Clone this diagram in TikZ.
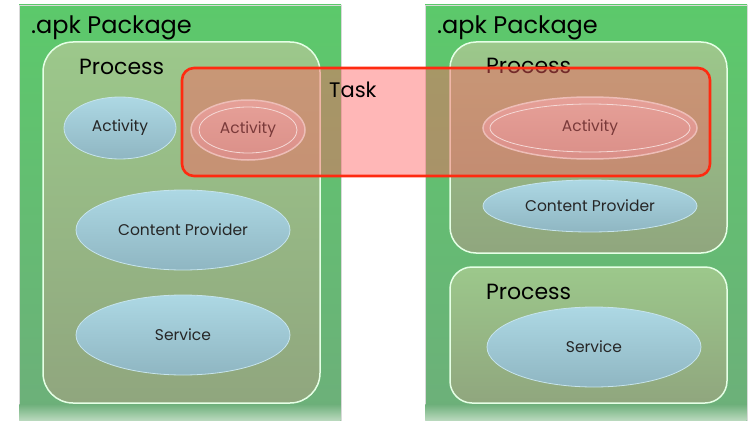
\documentclass[tikz,border=0pt]{standalone}
\usepackage{fontspec}
\setmainfont{Poppins}
\usetikzlibrary{shapes.geometric}
\definecolor{pkgtop}{HTML}{5CC96B}
\definecolor{pkgbot}{HTML}{6DAF7A}
\definecolor{pkgfade}{HTML}{B8D8BC}
\definecolor{proctop}{HTML}{9CC88B}
\definecolor{procbot}{HTML}{90A67E}
\definecolor{elltop}{HTML}{ADD8E4}
\definecolor{ellbot}{HTML}{8FB6C2}
\definecolor{redtop}{HTML}{E6A098}
\definecolor{redbot}{HTML}{DA8F88}
\definecolor{redtext}{HTML}{7A3A3A}
\definecolor{taskfill}{HTML}{FF5F5F}
\definecolor{taskline}{HTML}{FF2A10}
\tikzset{
  pkgbox/.style={draw=black!15, line width=0.8pt, top color=pkgtop, bottom color=pkgbot},
  pkgband/.style={top color=pkgbot, bottom color=pkgfade},
  procbox/.style={draw=white!90!green, line width=1.5pt, top color=proctop, bottom color=procbot},
  blueell/.style={ellipse, draw=elltop!70!white, line width=0.8pt, top color=elltop, bottom color=ellbot, inner sep=0pt, font=\fontsize{15.5}{18}\selectfont, text=black!85},
  redell/.style={ellipse, draw=redtop!70!white, line width=1.5pt, top color=redtop, bottom color=redbot, inner sep=0pt, font=\fontsize{15.5}{18}\selectfont, text=redtext},
  bigtitle/.style={anchor=west, inner sep=0pt, font=\fontsize{24}{28}\selectfont},
  proctitle/.style={anchor=west, inner sep=0pt, font=\fontsize{22}{26}\selectfont},
  tasktitle/.style={anchor=west, inner sep=0pt, font=\fontsize{21}{24}\selectfont},
}
\begin{document}
\begin{tikzpicture}[x=1pt,y=-1pt]
\useasboundingbox (0,0) rectangle (749,420);
% packages
\path[pkgbox] (19,5) rectangle (341,425);
\path[pkgbox] (425,5) rectangle (747,425);
\path[pkgband] (19.4,404) rectangle (340.6,420);
\path[pkgband] (425.4,404) rectangle (746.6,420);
\node[bigtitle] (pkgL) at (31,28) {.apk Package};
\node[bigtitle] (pkgR) at (437,28) {.apk Package};
% processes
\path[procbox, rounded corners=30pt] (43,42) rectangle (320,403);
\path[procbox, rounded corners=26pt] (450,42) rectangle (727,253);
\path[procbox, rounded corners=22pt] (450,267) rectangle (727,403);
\node[proctitle] (procL) at (79,67) {Process};
\node[proctitle] (procR1) at (486,66) {Process};
\node[proctitle] (procR2) at (486,292) {Process};
% components left
\node[blueell, minimum width=112pt, minimum height=62pt] (actL) at (120,128) {Activity};
\node[blueell, minimum width=214pt, minimum height=80pt] (cpL) at (183,230) {Content Provider};
\node[blueell, minimum width=214pt, minimum height=80pt] (svL) at (183,335) {Service};
% components right
\node[blueell, minimum width=214pt, minimum height=52pt] (cpR) at (590,206) {Content Provider};
\node[blueell, minimum width=214pt, minimum height=80pt] (svR) at (594,347) {Service};
% task
\draw[taskline, line width=2.6pt, fill=taskfill, fill opacity=0.45, rounded corners=12pt] (182,68) rectangle (710,176);
\node[tasktitle] (task) at (329,90) {Task};
% activities in task
\node[redell, minimum width=114pt, minimum height=60pt] (actLr) at (248,130) {Activity};
\draw[white!60!redtop, line width=0.8pt] (248,130) ellipse (49pt and 23pt);
\node[redell, minimum width=214pt, minimum height=62pt] (actR) at (590,128) {Activity};
\draw[white!60!redtop, line width=0.8pt] (590,128) ellipse (100pt and 24pt);
\end{tikzpicture}
\end{document}
